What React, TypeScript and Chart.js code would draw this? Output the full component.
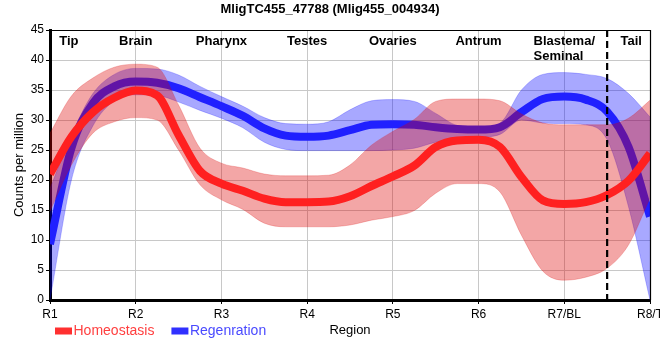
import React, { useEffect, useRef } from 'react';
import { Chart, registerables } from 'chart.js';

Chart.register(...registerables);

const chartTitle = 'MligTC455_47788 (Mlig455_004934)';
const regions = ['R1', 'R2', 'R3', 'R4', 'R5', 'R6', 'R7/BL', 'R8/T'];
const tissueLabels = ['Tip', 'Brain', 'Pharynx', 'Testes', 'Ovaries', 'Antrum', 'Blastema/\nSeminal', 'Tail'];
const tissuePositions = [0.22, 1, 2, 3, 4, 5, 6, 6.78];
const boundaryPosition = 6.5;

const xPositions = [
  0, 0.25, 0.5, 0.75, 1, 1.25, 1.5, 1.75, 2, 2.25, 2.5, 2.75, 3, 3.25, 3.5,
  3.75, 4, 4.25, 4.5, 4.75, 5, 5.25, 5.5, 5.75, 6, 6.25, 6.5, 6.75, 7,
];

const homeostasis = [
  21.0, 27.2, 31.3, 33.7, 34.9, 34.1, 27.5, 21.5, 19.4, 18.2, 16.9, 16.3, 16.3, 16.4, 17.3,
  19.0, 20.6, 22.4, 25.5, 26.6, 26.7, 25.5, 20.5, 16.6, 16.0, 16.3, 17.5, 19.9, 24.4,
];
const homeostasisUpper = [
  27.8, 34.0, 37.0, 38.8, 39.3, 38.8, 32.5, 25.3, 22.8, 22.0, 21.0, 20.7, 20.7, 20.8, 22.5,
  25.8, 28.1, 30.1, 33.1, 33.5, 33.5, 33.2, 31.0, 29.5, 29.2, 29.2, 29.2, 30.3, 33.3,
];
const homeostasisLower = [
  14.8, 22.5, 27.8, 29.7, 30.4, 30.0, 25.0, 19.2, 16.7, 15.1, 12.8, 12.2, 12.2, 12.2, 12.5,
  13.3, 13.9, 14.9, 17.8, 19.4, 19.4, 18.0, 10.8, 4.8, 3.3, 3.8, 5.3, 9.2, 17.0,
];

const regeneration = [
  9.3, 25.3, 32.8, 35.6, 36.4, 36.2, 35.3, 33.8, 32.3, 30.7, 28.6, 27.4, 27.2, 27.4, 28.3,
  29.2, 29.3, 29.2, 28.8, 28.5, 28.4, 28.8, 31.3, 33.5, 33.9, 33.4, 31.4, 25.5, 13.9,
];
const regenerationUpper = [
  18.6, 27.5, 34.4, 37.6, 38.6, 38.5, 37.5, 35.6, 33.9, 32.3, 30.4, 29.4, 29.3, 29.7, 31.7,
  33.2, 33.4, 33.1, 31.1, 29.1, 28.8, 29.5, 35.0, 37.6, 37.9, 37.6, 36.9, 34.4, 30.5,
];
const regenerationLower = [
  0.0, 20.0, 29.0, 33.2, 34.2, 34.1, 33.0, 31.6, 30.3, 28.7, 26.3, 25.1, 24.9, 24.9, 24.9,
  24.9, 25.0, 25.3, 26.3, 26.9, 27.1, 27.6, 30.0, 29.5, 29.4, 29.2, 26.7, 15.5, 0.0,
];

const FONT = '"Liberation Sans", Arial, sans-serif';

const toPoints = (values: number[]) => xPositions.map((x, i) => ({ x, y: values[i] }));

const overlayPlugin = {
  id: 'overlay',
  afterDatasetsDraw(chart: any) {
    const { ctx, chartArea: ca, scales } = chart;
    const xs = scales.x;
    ctx.save();
    // boundary dashed line
    const bx = xs.getPixelForValue(boundaryPosition);
    ctx.strokeStyle = '#000';
    ctx.lineWidth = 2.2;
    ctx.setLineDash([7, 4]);
    ctx.beginPath();
    ctx.moveTo(bx, ca.top);
    ctx.lineTo(bx, ca.bottom + 5);
    ctx.stroke();
    ctx.setLineDash([]);
    // top / right frame
    ctx.lineWidth = 1.2;
    ctx.beginPath();
    ctx.moveTo(ca.left, ca.top + 0.5);
    ctx.lineTo(ca.right + 0.5, ca.top + 0.5);
    ctx.lineTo(ca.right + 0.5, ca.bottom);
    ctx.stroke();
    // tissue labels
    ctx.font = `bold 13px ${FONT}`;
    ctx.fillStyle = '#000';
    ctx.textBaseline = 'alphabetic';
    tissueLabels.forEach((t, i) => {
      const lines = t.split('\n');
      const cx = xs.getPixelForValue(tissuePositions[i]);
      if (lines.length > 1) {
        const w = ctx.measureText(lines[0]).width;
        ctx.textAlign = 'left';
        lines.forEach((l, j) => ctx.fillText(l, cx - w / 2, ca.top + 14.5 + 15 * j));
      } else {
        ctx.textAlign = 'center';
        ctx.fillText(lines[0], cx, ca.top + 14.5);
      }
    });
    // title
    ctx.textAlign = 'center';
    ctx.fillText(chartTitle, chart.width / 2, 13);
    // legend
    ctx.font = `14px ${FONT}`;
    ctx.textAlign = 'left';
    let lx = 55;
    const ly = 335;
    const items = [
      { label: 'Homeostasis', box: '#ff3030', text: '#ff4040' },
      { label: 'Regenration', box: '#3030ff', text: '#4a4aff' },
    ];
    items.forEach((it) => {
      ctx.fillStyle = it.box;
      ctx.fillRect(lx, ly - 7.5, 17, 7);
      ctx.fillStyle = it.text;
      ctx.fillText(it.label, lx + 18.5, ly);
      lx += 18.5 + ctx.measureText(it.label).width + 17;
    });
    ctx.restore();
  },
};

export default function App() {
  const canvasRef = useRef<HTMLCanvasElement | null>(null);

  useEffect(() => {
    if (!canvasRef.current) return;
    Chart.defaults.font.family = FONT;
    const chart = new Chart(canvasRef.current, {
      type: 'line',
      data: {
        datasets: [
          {
            label: 'Homeostasis',
            data: toPoints(homeostasis),
            borderColor: '#ff2020',
            borderWidth: 8,
            fill: false,
          },
          {
            label: 'Homeostasis upper',
            data: toPoints(homeostasisUpper),
            borderColor: 'rgba(220,0,0,0.22)',
            borderWidth: 1,
            backgroundColor: 'rgba(220,0,0,0.35)',
            fill: '+1',
          },
          {
            label: 'Homeostasis lower',
            data: toPoints(homeostasisLower),
            borderColor: 'rgba(220,0,0,0.22)',
            borderWidth: 1,
            fill: false,
          },
          {
            label: 'Regenration',
            data: toPoints(regeneration),
            borderColor: '#2020ff',
            borderWidth: 8,
            fill: false,
          },
          {
            label: 'Regenration upper',
            data: toPoints(regenerationUpper),
            borderColor: 'rgba(0,0,255,0.22)',
            borderWidth: 1,
            backgroundColor: 'rgba(0,0,255,0.34)',
            fill: '+1',
          },
          {
            label: 'Regenration lower',
            data: toPoints(regenerationLower),
            borderColor: 'rgba(0,0,255,0.22)',
            borderWidth: 1,
            fill: false,
          },
        ],
      },
      options: {
        animation: false,
        responsive: false,
        maintainAspectRatio: false,
        layout: { padding: { top: 30, right: 10, left: 0, bottom: 0 } },
        plugins: {
          legend: { display: false },
          tooltip: { enabled: false },
          title: { display: false },
        },
        elements: {
          point: { radius: 0 },
          line: { cubicInterpolationMode: 'monotone' },
        },
        scales: {
          x: {
            type: 'linear',
            min: 0,
            max: 7,
            ticks: {
              stepSize: 1,
              autoSkip: false,
              maxRotation: 0,
              color: '#000',
              padding: 3,
              font: { size: 12, family: FONT },
              callback: (v: any) => regions[Number(v)] ?? '',
            },
            grid: { color: '#c8c8c8', tickLength: 4, tickColor: '#000' },
            border: { color: '#000', width: 3 },
            title: {
              display: true,
              text: 'Region',
              color: '#000',
              font: { size: 13, family: FONT },
              padding: { top: 0, bottom: 22 },
            },
            afterFit: (s: any) => {
              s.height = 60;
              s.paddingLeft = 0;
              s.paddingRight = 0;
            },
          },
          y: {
            min: 0,
            max: 45,
            ticks: {
              stepSize: 5,
              color: '#000',
              padding: 2,
              font: { size: 12, family: FONT },
            },
            grid: { color: '#c8c8c8', tickLength: 4, tickColor: '#000' },
            border: { color: '#000', width: 3 },
            title: {
              display: true,
              text: 'Counts per million',
              color: '#000',
              font: { size: 13, family: FONT },
              padding: { top: 12, bottom: 0 },
            },
            afterFit: (s: any) => {
              s.width = 50;
              s.paddingTop = 0;
              s.paddingBottom = 0;
            },
          },
        },
      },
      plugins: [overlayPlugin],
    });
    return () => chart.destroy();
  }, []);

  return (
    <div style={{ position: 'fixed', left: 0, top: 0, width: 660, height: 360, background: '#fff' }}>
      <canvas ref={canvasRef} width={660} height={360} style={{ width: 660, height: 360 }} />
    </div>
  );
}
